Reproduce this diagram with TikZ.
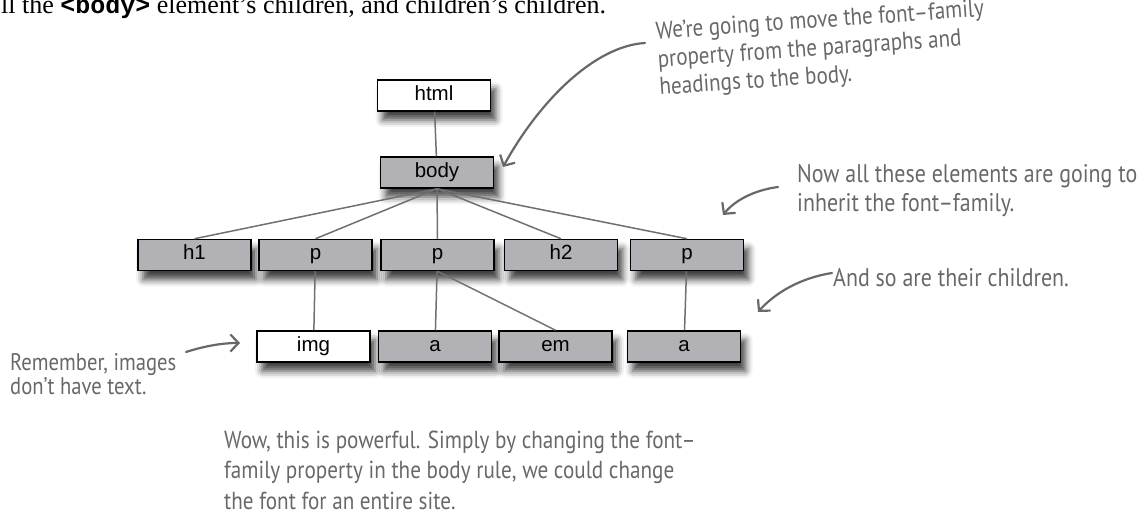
\documentclass[tikz,border=0pt]{standalone}
\usepackage{fontspec}
\setmainfont{Liberation Serif}
\newfontfamily\boxfont{Liberation Sans}
\newfontfamily\handfont[FakeStretch=0.86]{PT Sans}
\newfontfamily\codefont{Liberation Mono}
\usetikzlibrary{arrows.meta,shadows.blur}

\definecolor{boxgray}{RGB}{178,178,182}
\definecolor{linegray}{RGB}{112,112,112}
\definecolor{notegray}{RGB}{104,104,106}

\begin{document}
\begin{tikzpicture}[
    x=1pt, y=-1pt,
    >={Straight Barb[length=8pt,width=17pt]},
    elem/.style={rectangle, draw=black, line width=1.5pt, minimum width=113pt,
      minimum height=31pt, inner sep=0pt, text height=14pt, text depth=4pt,
      font=\boxfont\fontsize{20.5}{22}\selectfont,
      blur shadow={shadow xshift=5pt, shadow yshift=-9pt, shadow blur radius=7pt, shadow opacity=75}},
    blank/.style={elem, fill=white},
    shaded/.style={elem, fill=boxgray},
    link/.style={draw=linegray, line width=1.5pt},
    note/.style={font=\handfont\fontsize{25.5}{29}\selectfont, text=notegray,
      align=left, inner sep=0pt, anchor=base west},
    pointer/.style={draw=notegray, line width=2.2pt, ->, line cap=round}
]
  \useasboundingbox (0,0) rectangle (1141,518);

  % nodes
  \node (html) [blank]  at (434,95.5) {html};
  \node (body) [shaded] at (437,172.5) {body};

  \node (h1)  [shaded] at (194.5,255) {h1};
  \node (p1)  [shaded] at (315.5,255) {p};
  \node (p2)  [shaded] at (437.5,255) {p};
  \node (h2)  [shaded] at (561,255)   {h2};
  \node (p3)  [shaded] at (687,255)   {p};

  \node (img) [blank]  at (313.5,346.5) {img};
  \node (a1)  [shaded] at (435,346.5)   {a};
  \node (em)  [shaded] at (555.5,346.5) {em};
  \node (a2)  [shaded] at (684,346.5)   {a};

  % edges
  \draw[link] (html) -- (body);
  \foreach \kid in {h1,p1,p2,h2,p3}
    \draw[link] (body.south) -- (\kid.north);
  \draw[link] (p1) -- (img);
  \draw[link] (p2) -- (a1);
  \draw[link] (p2.south) -- (em.north);
  \draw[link] (p3) -- (a2);

  % text (multi-line notes sit on the baseline of their last line)
  \node (lead) [anchor=base west, inner sep=0pt, font=\fontsize{26}{30}\selectfont] at (1,14)
    {ll the {\codefont\bfseries\fontsize{25}{30}\selectfont <body>} element’s children, and children’s children.};

  \node (move)  [note, rotate=4, font=\handfont\fontsize{24.5}{28}\selectfont] at (660,95)
    {We’re going to move the font–family\\property from the paragraphs and\\headings to the body.};
  \node (now)   [note] at (797,212) {Now all these elements are going to\\inherit the font–family.};
  \node (kids)  [note] at (833,287) {And so are their children.};
  \node (noimg) [note, font=\handfont\fontsize{24}{24}\selectfont] at (10,395)
    {Remember, images\\don’t have text.};
  \node (wow)   [note, font=\handfont\fontsize{24.6}{30.5}\selectfont] at (224,509)
    {Wow, this is powerful. Simply by changing the font–\\family property in the body rule, we could change\\the font for an entire site.};

  % pointers
  \coordinate (moveS) at (645,43);   \coordinate (moveT) at (503,167);
  \coordinate (nowS)  at (778,187);  \coordinate (nowT)  at (723,215);
  \coordinate (kidsS) at (832,273);  \coordinate (kidsT) at (758,312);
  \coordinate (imgS)  at (186,352);  \coordinate (imgT)  at (240,343);

  \draw[pointer] (moveS) .. controls (595,46) and (540,100) .. (moveT);
  \draw[pointer] (nowS) .. controls (755,190) and (735,200) .. (nowT);
  \draw[pointer] (kidsS) .. controls (800,278) and (775,293) .. (kidsT);
  \draw[pointer] (imgS) .. controls (205,346) and (222,343) .. (imgT);
\end{tikzpicture}
\end{document}
